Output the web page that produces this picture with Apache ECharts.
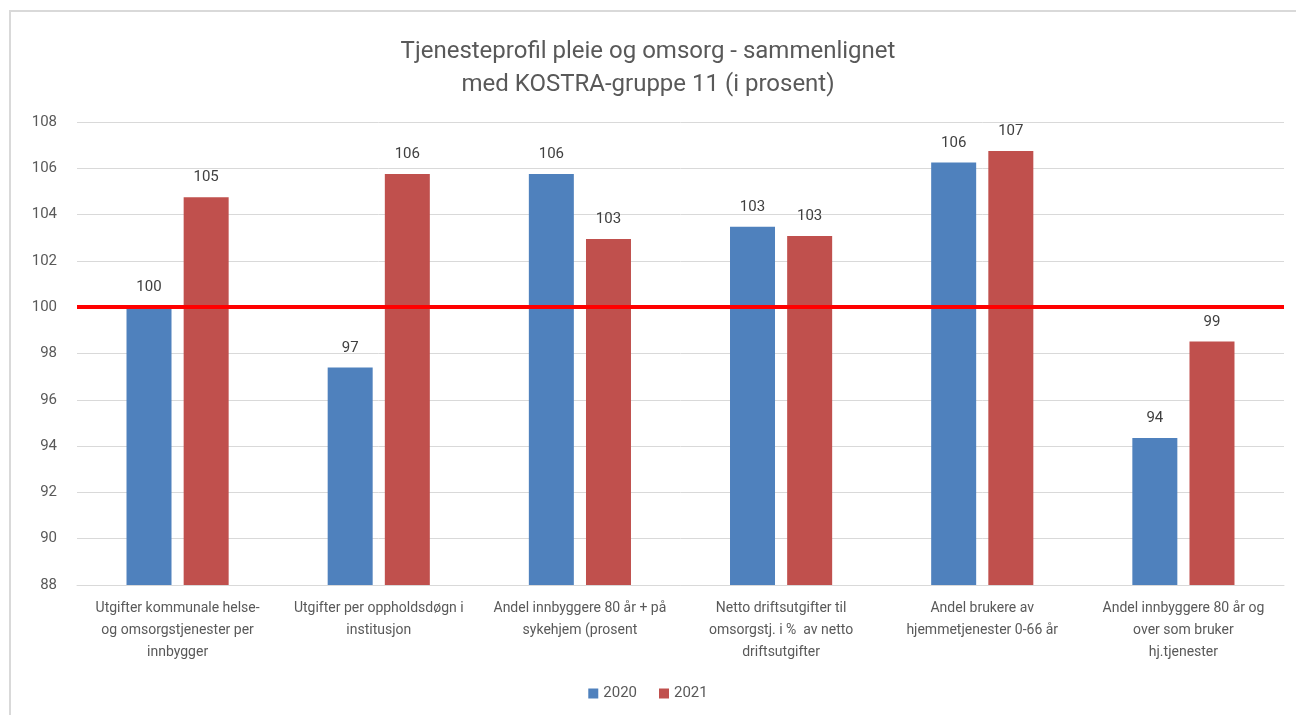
<!DOCTYPE html>
<html>
<head>
<meta charset="utf-8">
<script src="https://cdn.jsdelivr.net/npm/echarts@6/dist/echarts.min.js"></script>
<style>
html,body{margin:0;padding:0;background:#fff;}
#frame{position:absolute;left:9px;top:10px;width:1287px;height:705px;border-left:2px solid #d9d9d9;border-top:2px solid #d9d9d9;box-sizing:border-box;}
#chart{position:absolute;left:0;top:0;width:1296px;height:715px;}
</style>
</head>
<body>
<div id="frame"></div>
<div id="chart"></div>
<script>
const categories = [
  "Utgifter kommunale helse-\nog omsorgstjenester per\ninnbygger",
  "Utgifter per oppholdsdøgn i\ninstitusjon",
  "Andel innbyggere 80 år + på\nsykehjem (prosent",
  "Netto driftsutgifter til\nomsorgstj. i %  av netto\ndriftsutgifter",
  "Andel brukere av\nhjemmetjenester 0-66 år",
  "Andel innbyggere 80 år og\nover som bruker\nhj.tjenester"
];
const values2020 = [100.0, 97.4, 105.75, 103.48, 106.25, 94.35];
const values2021 = [104.75, 105.75, 102.95, 103.08, 106.75, 98.52];
const referenceLevel = 100;
const yTicks = { min: 88, max: 108, interval: 2 };
const titleText = "Tjenesteprofil pleie og omsorg - sammenlignet\nmed KOSTRA-gruppe 11 (i prosent)";

const font = "Roboto, 'Liberation Sans', sans-serif";
const chart = echarts.init(document.getElementById('chart'), null, {renderer:'canvas'});
const labelCfg = {
  show: true, position: 'top', distance: 12,
  color: '#404040', fontSize: 15, fontFamily: font,
  formatter: p => Math.round(p.value)
};
chart.setOption({
  animation: false,
  title: {
    text: titleText, left: 'center', top: 30,
    textStyle: { color: '#595959', fontSize: 24, fontWeight: 'normal', fontFamily: font, lineHeight: 33 }
  },
  legend: {
    bottom: 9, left: 'center', itemWidth: 10, itemHeight: 10, itemGap: 22,
    icon: 'rect',
    textStyle: { color: '#595959', fontSize: 15, fontFamily: font }
  },
  grid: { left: 77, right: 12, top: 122, bottom: 130, containLabel: false },
  xAxis: {
    type: 'category', data: categories,
    axisLine: { lineStyle: { color: '#d9d9d9', width: 1 } },
    axisTick: { show: false },
    axisLabel: { color: '#595959', fontSize: 14, fontFamily: font, lineHeight: 22, margin: 12, interval: 0 }
  },
  yAxis: {
    type: 'value', min: yTicks.min, max: yTicks.max, interval: yTicks.interval,
    axisLine: { show: false }, axisTick: { show: false },
    axisLabel: { color: '#595959', fontSize: 15, fontFamily: font, margin: 20 },
    splitLine: { lineStyle: { color: '#d9d9d9', width: 1 } }
  },
  series: [
    {
      name: '2020', type: 'bar', data: values2020, barWidth: 45, barGap: '27%',
      itemStyle: { color: '#4f81bd' }, label: labelCfg,
      markLine: {
        silent: true, symbol: 'none', z: 10,
        lineStyle: { color: '#ff0000', width: 4, type: 'solid' },
        label: { show: false },
        data: [{ yAxis: referenceLevel }]
      }
    },
    {
      name: '2021', type: 'bar', data: values2021, barWidth: 45,
      itemStyle: { color: '#c0504d' }, label: labelCfg
    }
  ]
});
</script>
</body>
</html>
